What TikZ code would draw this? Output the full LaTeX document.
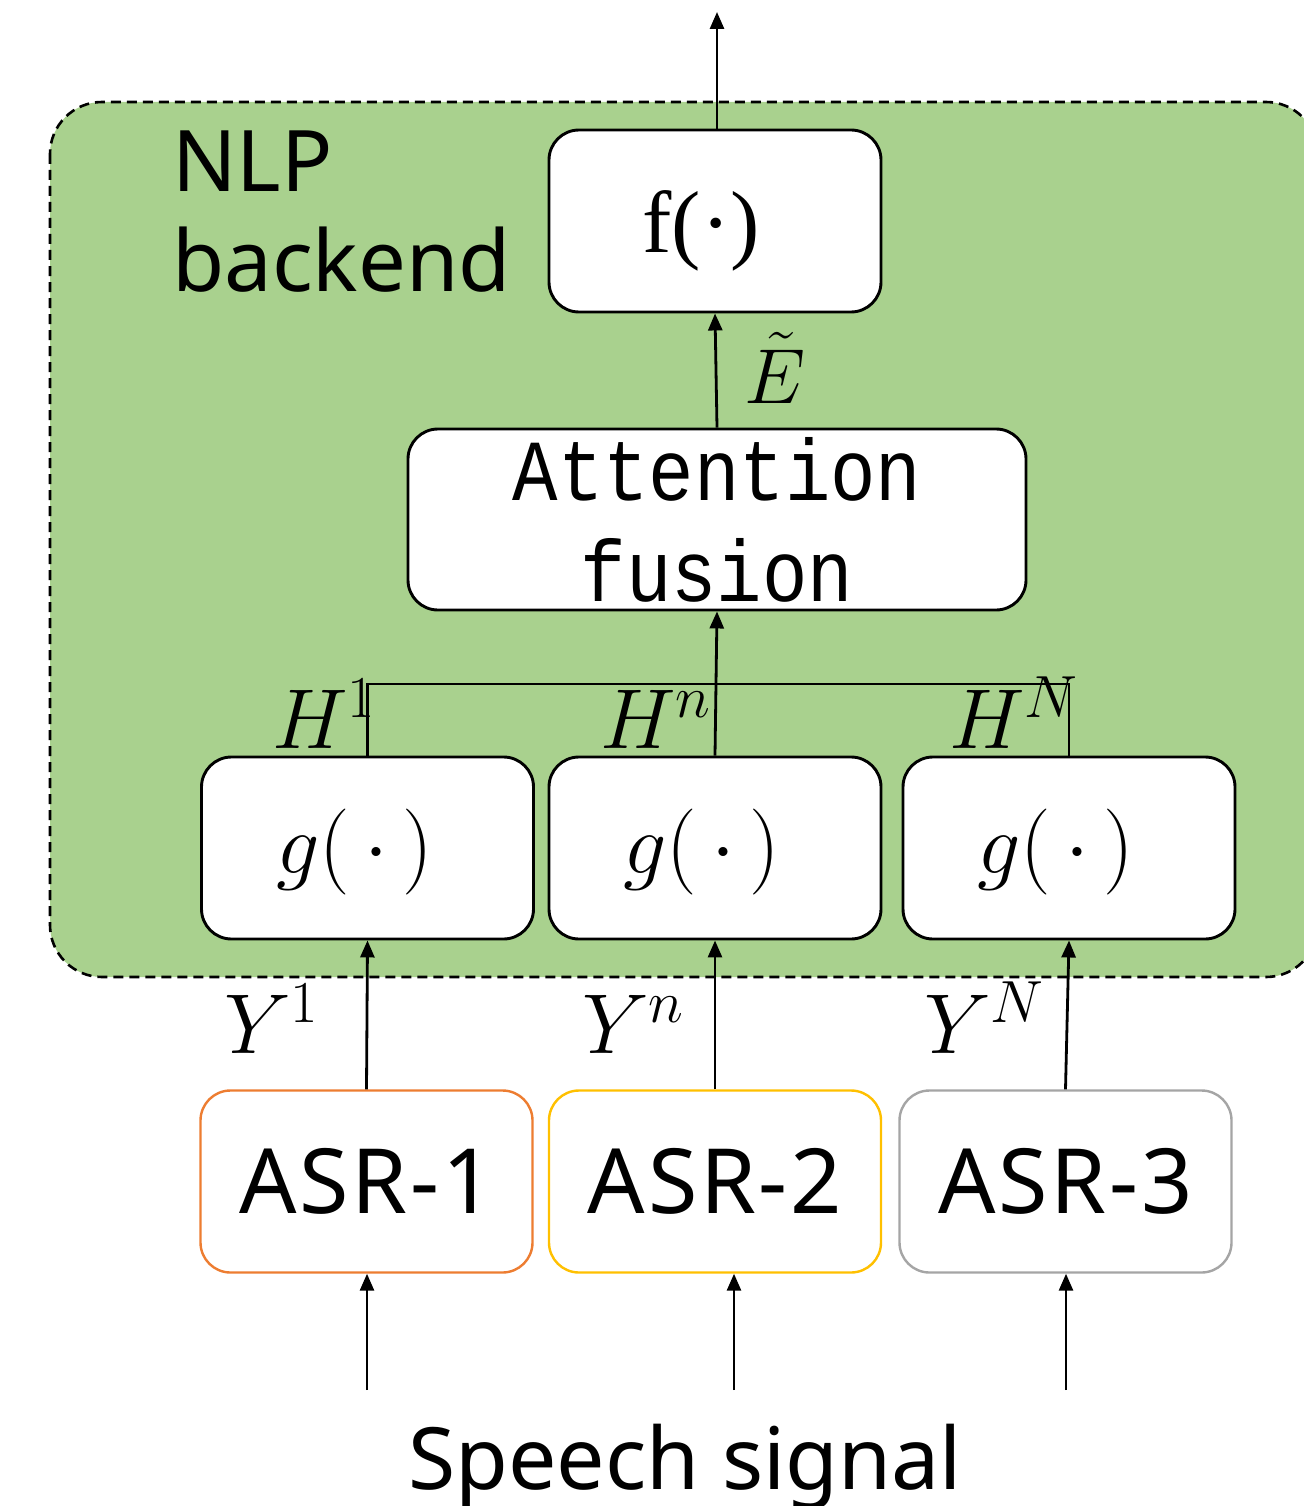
\RequirePackage{fix-cm}
\documentclass[tikz,border=0pt]{standalone}
\usepackage{fontspec}
\setmainfont{Noto Sans}
\newfontfamily\asrface[LetterSpace=3]{Noto Sans}
\newfontfamily\serifface{Liberation Serif}
\newfontfamily\monoface[FakeStretch=0.87]{Liberation Mono}
\usetikzlibrary{arrows.meta}
\definecolor{nlpgreen}{HTML}{A9D18E}
\definecolor{asrorange}{HTML}{ED7D31}
\definecolor{asrgold}{HTML}{FFC000}
\definecolor{asrgray}{HTML}{A5A5A5}

\tikzset{
  blk/.style={draw, line width=2.9pt, rounded corners=30pt, fill=white,
    minimum width=332pt, minimum height=182pt, inner sep=0pt},
  asrbox/.style={blk, line width=2.4pt, font=\asrface\fontsize{90}{100}\selectfont},
  arr/.style={line width=2.8pt, -{Triangle[length=17pt,width=14pt]}},
  bus/.style={line width=2.5pt},
  mathlbl/.style={inner sep=0pt, font=\fontsize{85}{100}\selectfont},
  gfun/.style={blk, inner sep=0pt, text height=60pt, text depth=10pt,
    font=\fontsize{86}{100}\selectfont},
}
\newcommand\gcall{$g(\,\cdot\,)$\hspace*{26pt}}

\begin{document}
\begin{tikzpicture}[x=1pt, y=-1pt]
  \useasboundingbox (0,0) rectangle (1303,1506);

  % NLP backend region
  \draw[fill=nlpgreen, line width=2.6pt, dash pattern=on 10pt off 6pt,
        rounded corners=52pt] (50,102) rectangle (1318,977);
  \node[anchor=north west, align=left, inner sep=0pt,
        font=\fontsize{85}{100}\selectfont] (nlplabel) at (172,131) {NLP\\backend};

  % backend blocks
  \node[blk, text height=72pt, text depth=10pt,
        font=\serifface\fontsize{88}{100}\selectfont] (f) at (715,221)
    {f(·)\hspace*{28pt}};
  \node[blk, minimum width=618pt, minimum height=181pt, align=center,
        font=\monoface\fontsize{87}{101}\selectfont] (att) at (717,519.5) {Attention\\fusion};

  \node[gfun] (g1) at (367.5,848) {\gcall};
  \node[gfun] (g2) at (715,848)   {\gcall};
  \node[gfun] (g3) at (1069,848)  {\gcall};

  % ASR systems
  \node[asrbox, draw=asrorange] (a1) at (366.5,1181.5) {ASR-1};
  \node[asrbox, draw=asrgold]   (a2) at (715,1181.5)   {ASR-2};
  \node[asrbox, draw=asrgray]   (a3) at (1065.5,1181.5) {ASR-3};

  % output
  \coordinate (out) at (717,12);
  \draw[arr] (out |- f.north) -- (out);
  \draw[arr] (att.north) -- (f.south);
  \node[mathlbl, anchor=base west, font=\fontsize{78}{100}\selectfont] (etil) at (744,403) {$\tilde{E}$};

  % hidden representations merged into attention fusion
  \coordinate (busmid) at (716,684);
  \draw[bus] (g1.north) |- (busmid) -| (g3.north);
  \draw[arr] (g2.north) -- (att.south);
  \node[mathlbl, anchor=base west] (h1) at (272,748) {$H^1$};
  \node[mathlbl, anchor=base west] (hn) at (600,748) {$H^n$};
  \node[mathlbl, anchor=base west] (hN) at (949,748) {$H^N$};

  % ASR hypotheses
  \draw[arr] (a1.north) -- (g1.south);
  \draw[arr] (a2.north) -- (g2.south);
  \draw[arr] (a3.north) -- (g3.south);
  \node[mathlbl, anchor=base west] (y1) at (224,1053) {$Y^1$};
  \node[mathlbl, anchor=base west] (yn) at (582,1053) {$Y^n$};
  \node[mathlbl, anchor=base west] (yN) at (924,1053) {$Y^N$};

  % speech input
  \coordinate (s1) at (367,1390);
  \coordinate (s2) at (734,1390);
  \coordinate (s3) at (1066,1390);
  \draw[arr] (s1) -- (s1 |- a1.south);
  \draw[arr] (s2) -- (s2 |- a2.south);
  \draw[arr] (s3) -- (s3 |- a3.south);
  \node[anchor=base, inner sep=0pt, font=\fontsize{86}{100}\selectfont] (sig) at (685,1489) {Speech signal};
\end{tikzpicture}
\end{document}
